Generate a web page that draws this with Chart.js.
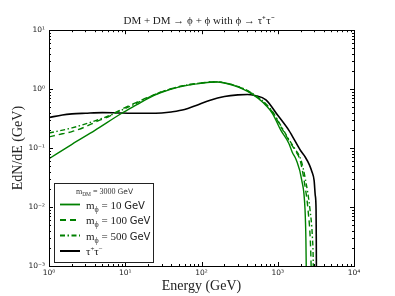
<!DOCTYPE html>
<html><head><meta charset="utf-8">
<script src="https://cdn.jsdelivr.net/npm/chart.js@4.4.1/dist/chart.umd.min.js"></script>
<style>html,body{margin:0;padding:0;background:#fff}</style>
</head><body>
<canvas id="c" width="395" height="296"></canvas>
<script>
// ---- text ----
const chartTitle = 'DM + DM → ϕ + ϕ with ϕ → τ⁺τ⁻';
const xAxisTitle = 'Energy (GeV)';
const yAxisTitle = 'EdN/dE (GeV)';
const xTickValues = [1, 10, 100, 1000, 10000];
const xTickLabels = ['10⁰', '10¹', '10²', '10³', '10⁴'];
const yTickValues = [0.001, 0.01, 0.1, 1, 10];
const yTickLabels = ['10⁻³', '10⁻²', '10⁻¹', '10⁰', '10¹'];
const legendDmMass = '3000';
const mediatorMasses = ['10', '100', '500'];
const seriesLabels = ['m_ϕ = 10 GeV', 'm_ϕ = 100 GeV', 'm_ϕ = 500 GeV', 'τ⁺τ⁻'];

// ---- data (E in GeV, E dN/dE in GeV) ----
const energy10 = [1, 2, 4, 9, 14, 20, 30, 50, 70, 100, 130, 160, 200, 260, 350, 450, 550, 700, 850, 1100, 1400, 1550, 1750, 2060, 2280, 2340, 2390];
const dnde10   = [0.066, 0.116, 0.2, 0.39, 0.54, 0.70, 0.88, 1.08, 1.18, 1.26, 1.31, 1.32, 1.27, 1.16, 1.0, 0.84, 0.70, 0.53, 0.39, 0.2, 0.12, 0.085, 0.063, 0.029, 0.009, 0.0028, 0.0003];

const energy100 = [1, 1.5, 2, 3, 4.4, 6, 7.7, 10.4, 15, 20, 30, 50, 70, 100, 130, 160, 200, 260, 350, 450, 550, 700, 850, 1100, 1400, 1750, 1960, 2250, 2494, 2700, 2800];
const dnde100   = [0.155, 0.175, 0.19, 0.23, 0.29, 0.34, 0.41, 0.50, 0.62, 0.73, 0.90, 1.10, 1.20, 1.28, 1.32, 1.33, 1.28, 1.18, 1.02, 0.86, 0.72, 0.55, 0.41, 0.23, 0.135, 0.085, 0.063, 0.025, 0.009, 0.002, 0.0003];

const energy500 = [1, 2, 4, 7, 10, 15, 20, 30, 50, 70, 100, 130, 160, 200, 260, 350, 450, 550, 700, 850, 1100, 1400, 1750, 2000, 2300, 2650, 2850, 2920, 2950];
const dnde500   = [0.18, 0.22, 0.29, 0.38, 0.47, 0.6, 0.72, 0.9, 1.1, 1.2, 1.28, 1.32, 1.33, 1.28, 1.18, 1.03, 0.87, 0.73, 0.56, 0.42, 0.24, 0.14, 0.09, 0.065, 0.03, 0.009, 0.003, 0.0012, 0.0003];

const energyTau = [1, 1.5, 2, 3, 5, 8, 12, 20, 30, 40, 60, 85, 130, 200, 300, 400, 500, 700, 1000, 1400, 1550, 2000, 2300, 2600, 2800, 3000, 3100, 3180, 3200, 3220];
const dndeTau   = [0.33, 0.365, 0.38, 0.39, 0.40, 0.395, 0.39, 0.39, 0.395, 0.41, 0.45, 0.53, 0.65, 0.75, 0.80, 0.81, 0.78, 0.66, 0.36, 0.2, 0.16, 0.09, 0.07, 0.052, 0.04, 0.028, 0.016, 0.009, 0.003, 0.0003];

const green = '#008000';
const black = '#000000';

function pts(xs, ys) { return xs.map((x, i) => ({ x: x, y: ys[i] })); }

const datasets = [
  { label: seriesLabels[0], data: pts(energy10, dnde10), borderColor: green, borderWidth: 1.4, borderDash: [] },
  { label: seriesLabels[1], data: pts(energy100, dnde100), borderColor: green, borderWidth: 1.4, borderDash: [6, 4] },
  { label: seriesLabels[2], data: pts(energy500, dnde500), borderColor: green, borderWidth: 1.4, borderDash: [5, 2.5, 1.5, 2.5] },
  { label: seriesLabels[3], data: pts(energyTau, dndeTau), borderColor: black, borderWidth: 1.6, borderDash: [] }
].map(d => Object.assign(d, { pointRadius: 0, fill: false, cubicInterpolationMode: 'monotone', backgroundColor: d.borderColor, yAxisID: 'y' }));

function drawRich(ctx, x, y, parts, align) {
  let w = 0;
  parts.forEach(p => { ctx.font = p[1]; w += ctx.measureText(p[0]).width; });
  let cx = align === 'center' ? x - w / 2 : x;
  ctx.textBaseline = 'alphabetic';
  ctx.textAlign = 'left';
  parts.forEach(p => { ctx.font = p[1]; ctx.fillText(p[0], cx, y + (p[2] || 0)); cx += ctx.measureText(p[0]).width; });
}

const framePlugin = {
  id: 'frame',
  afterDatasetsDraw(chart) {
    const ctx = chart.ctx, a = chart.chartArea;
    const xs = chart.scales.x, ys = chart.scales.y;
    ctx.save();
    ctx.strokeStyle = '#000';
    ctx.lineWidth = 1;
    ctx.strokeRect(Math.round(a.left) + 0.5, Math.round(a.top) + 0.5, Math.round(a.right - a.left), Math.round(a.bottom - a.top));
    ctx.beginPath();
    for (let d = 0; d < 4; d++) {
      for (let m = 1; m <= 9; m++) {
        const v = Math.pow(10, d) * m;
        const px = Math.round(xs.getPixelForValue(v)) + 0.5;
        const len = m === 1 ? 4 : 2;
        ctx.moveTo(px, a.bottom); ctx.lineTo(px, a.bottom - len);
        ctx.moveTo(px, a.top); ctx.lineTo(px, a.top + len);
      }
    }
    for (let d = -3; d < 1; d++) {
      for (let m = 1; m <= 9; m++) {
        const v = Math.pow(10, d) * m;
        const py = Math.round(ys.getPixelForValue(v)) + 0.5;
        const len = m === 1 ? 4 : 2;
        ctx.moveTo(a.left, py); ctx.lineTo(a.left + len, py);
        ctx.moveTo(a.right, py); ctx.lineTo(a.right - len, py);
      }
    }
    ctx.stroke();

    // legend
    const L = 54, T = 183, R = 153, B = 262;
    ctx.fillStyle = '#fff';
    ctx.fillRect(L, T, R - L, B - T);
    ctx.strokeStyle = '#222';
    ctx.strokeRect(L + 0.5, T + 0.5, R - L, B - T);
    ctx.fillStyle = '#333';
    const serif = 'Liberation Serif';
    drawRich(ctx, (L + R) / 2 + 1, 194, [
      ['m', '8px "' + serif + '"', 0], ['DM', '5.5px "' + serif + '"', 1.5], [' = ' + legendDmMass + ' ', '8px "' + serif + '"', 0], ['GeV', '7.5px "DejaVu Sans"', 0]
    ], 'center');
    const rows = [204.5, 220, 235.5, 251];
    chart.data.datasets.forEach((ds, i) => {
      const y = rows[i];
      ctx.strokeStyle = ds.borderColor;
      ctx.lineWidth = ds.borderWidth + 0.4;
      ctx.setLineDash(ds.borderDash || []);
      ctx.beginPath(); ctx.moveTo(60, y); ctx.lineTo(80, y); ctx.stroke();
      ctx.setLineDash([]);
      ctx.fillStyle = '#222';
      if (i < 3) {
        drawRich(ctx, 86, y + 4, [
          ['m', '11px "' + serif + '"', 0], ['ϕ', '8px "' + serif + '"', 3], [' = ' + mediatorMasses[i] + ' ', '11px "' + serif + '"', 0], ['GeV', '10px "DejaVu Sans"', 0]
        ], 'left');
      } else {
        drawRich(ctx, 86, y + 4, [
          ['τ', '11px "' + serif + '"', 0], ['+', '7px "' + serif + '"', -4], ['τ', '11px "' + serif + '"', 0], ['−', '7px "' + serif + '"', -4]
        ], 'left');
      }
    });
    ctx.restore();
  }
};

new Chart(document.getElementById('c'), {
  type: 'line',
  data: { datasets: datasets },
  options: {
    responsive: false,
    animation: false,
    devicePixelRatio: 1,
    layout: { padding: { left: 3, right: 0, top: 0, bottom: 0 } },
    plugins: {
      legend: { display: false },
      tooltip: { enabled: false },
      title: {
        display: true, text: chartTitle, color: '#222',
        font: { family: 'Liberation Serif', size: 11, weight: 'normal' },
        padding: { top: 15, bottom: 2 }
      }
    },
    scales: {
      x: {
        type: 'logarithmic', min: 1, max: 10000, position: 'bottom',
        grid: { display: false, drawTicks: false }, border: { display: false },
        afterBuildTicks: s => { s.ticks = xTickValues.map(v => ({ value: v })); },
        afterFit: s => { s.height = 30; },
        ticks: { autoSkip: false, maxRotation: 0, padding: 3, color: '#222',
          font: { family: 'DejaVu Sans', size: 7.5 },
          callback: (v, i) => xTickLabels[i] },
        title: { display: true, text: xAxisTitle, color: '#222',
          font: { family: 'Liberation Serif', size: 14 }, padding: { top: 0, bottom: 1 } }
      },
      y: {
        type: 'logarithmic', min: 0.001, max: 10, position: 'left',
        grid: { display: false, drawTicks: false }, border: { display: false },
        afterBuildTicks: s => { s.ticks = yTickValues.map(v => ({ value: v })); },
        afterFit: s => { s.width = 46; },
        ticks: { autoSkip: false, padding: 4, color: '#222',
          font: { family: 'DejaVu Sans', size: 7.5 },
          callback: (v, i) => yTickLabels[i] },
        title: { display: true, text: yAxisTitle, color: '#222',
          font: { family: 'Liberation Serif', size: 14 }, padding: { top: 7, bottom: 0 } }
      },
      y2: {
        type: 'linear', position: 'right', display: true,
        grid: { display: false, drawTicks: false }, border: { display: false },
        ticks: { display: false },
        afterFit: s => { s.width = 41; }
      }
    }
  },
  plugins: [framePlugin]
});
</script>
</body></html>
